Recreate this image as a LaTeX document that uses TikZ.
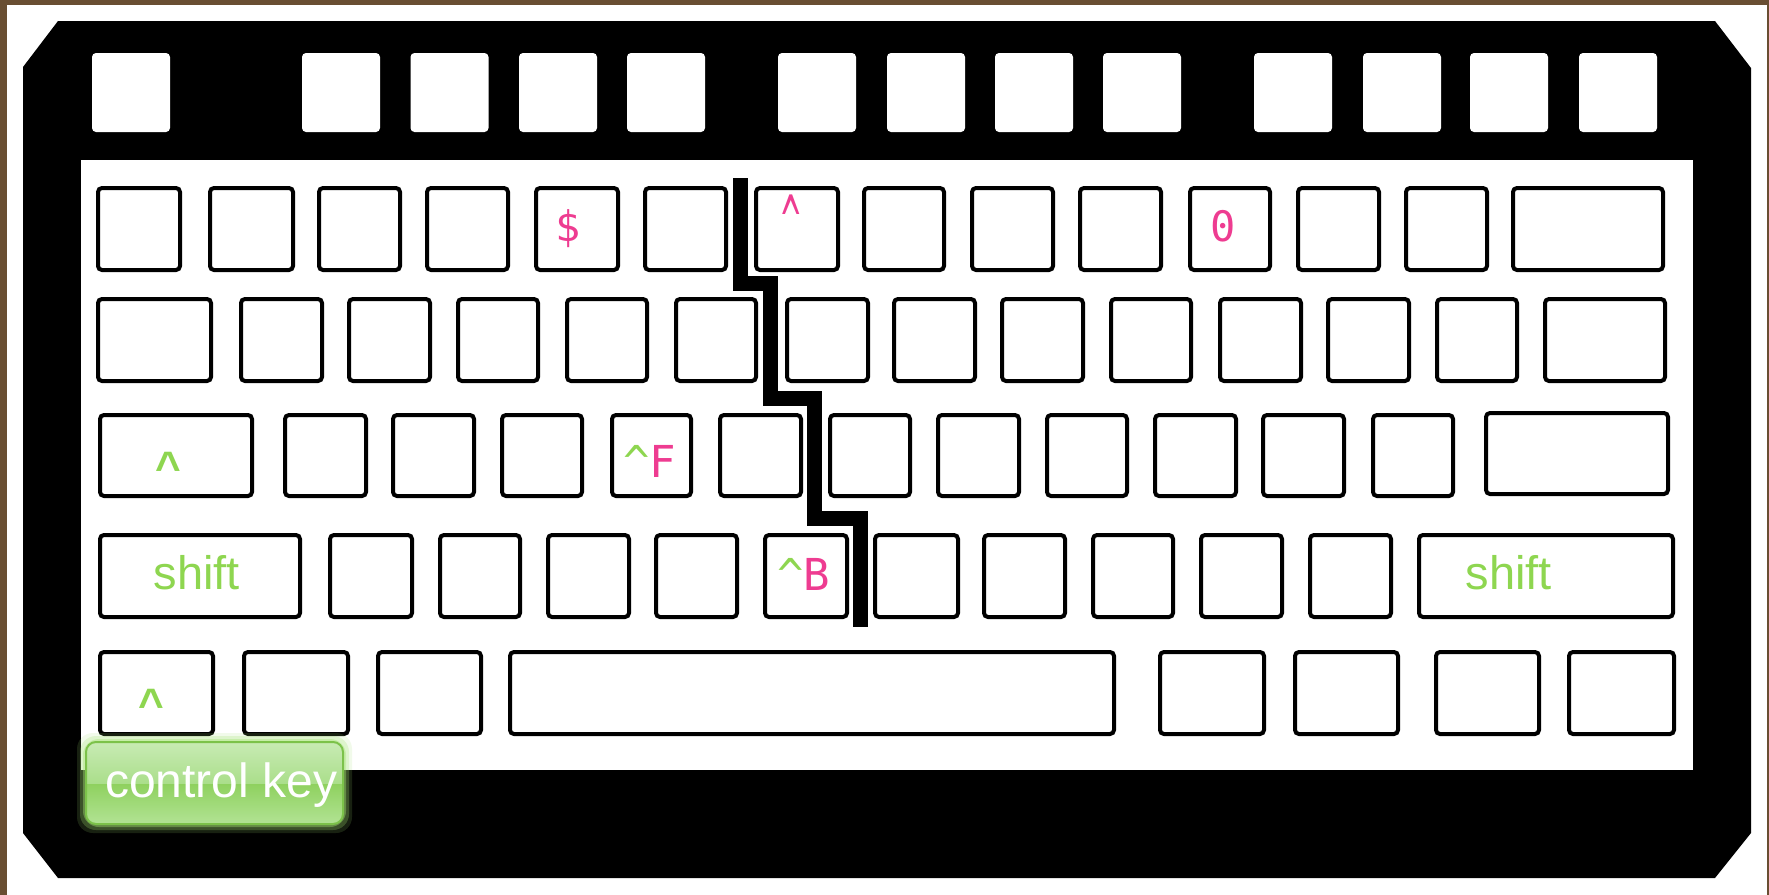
\documentclass[tikz,border=0pt]{standalone}
\usepackage{fontspec}
\newfontfamily\monof{DejaVu Sans Mono}
\newfontfamily\arialf{Liberation Sans}
\definecolor{kgreen}{RGB}{142,214,80}
\definecolor{kglow}{RGB}{165,228,115}
\definecolor{kpink}{RGB}{238,60,145}
\definecolor{kbrown}{RGB}{105,78,50}
\definecolor{cgla}{RGB}{200,235,180}
\definecolor{cglb}{RGB}{170,222,138}
\definecolor{cgda}{RGB}{143,209,95}
\definecolor{cgdb}{RGB}{178,227,148}
\definecolor{cborder}{RGB}{124,194,74}
\begin{document}
\begin{tikzpicture}[x=0.5pt,y=-0.5pt,
  keyst/.style={draw=black,line width=2pt,rounded corners=2pt,fill=white},
  fkey/.style={fill=white,rounded corners=2pt},
  pinklbl/.style={inner sep=0,outer sep=0,text=kpink,font=\monof\fontsize{21}{24}\selectfont},
  ctrllbl/.style={inner sep=0,outer sep=0,font=\monof\fontsize{22}{26}\selectfont},
  caretlbl/.style={inner sep=0,outer sep=0,text=kgreen,font=\arialf\bfseries\fontsize{22}{26}\selectfont},
  shiftlbl/.style={inner sep=0,outer sep=0,text=kgreen,font=\arialf\fontsize{23.5}{28}\selectfont},
  crack/.style={draw=black,line width=7.5pt}]
\fill[kbrown] (0,0) rectangle (1769,895);
\fill[white] (7,5) rectangle (1767,895);
\useasboundingbox (0,0) rectangle (1769,895);
% body
\fill[black] (23,67) -- (58,21) -- (1715,21) -- (1751,68) -- (1751,833) -- (1715,878) -- (58,878) -- (23,833) -- cycle;
\fill[white] (81,160) rectangle (1693,770);
% function keys
\foreach \a in {92,302,410.5,519,627,778,887,995,1103,1254,1363,1470,1579}
  \fill[fkey] (\a,53) rectangle (\a+78,132);
% row 1
\foreach \a/\b in {96/182,208/295,317/402,425/510,534/620,643/728,754/840,862/946,970/1055,1078/1163,1188/1272,1296/1381,1404/1489,1511/1665}
  \draw[keyst] (\a+2,188) rectangle (\b-2,270);
% row 2
\foreach \a/\b in {96/213,239/324,347/432,456/540,565/649,674/758,785/870,892/977,1000/1085,1109/1193,1218/1303,1326/1411,1435/1519,1543/1667}
  \draw[keyst] (\a+2,299) rectangle (\b-2,381);
% row 3
\foreach \a/\b in {98/254,283/368,391/476,500/584,610/693,718/803,828/912,936/1021,1045/1129,1153/1238,1261/1346,1371/1455}
  \draw[keyst] (\a+2,415) rectangle (\b-2,496);
\draw[keyst] (1486,413) rectangle (1668,494);
% row 4
\foreach \a/\b in {98/302,328/414,438/522,546/631,654/739,763/849,873/960,982/1067,1091/1175,1199/1284,1308/1393,1417/1675}
  \draw[keyst] (\a+2,535) rectangle (\b-2,617);
% row 5
\foreach \a/\b in {98/215,242/350,376/483,508/1116,1158/1266,1293/1400,1434/1541,1567/1676}
  \draw[keyst] (\a+2,652) rectangle (\b-2,734);
% crack
\draw[crack] (740.5,178) -- (740.5,283) -- (770.5,283) -- (770.5,398.5) -- (814.5,398.5) -- (814.5,518.5) -- (860.5,518.5) -- (860.5,627);
% labels
\node[pinklbl,anchor=base] (dollar) at (568.5,241) {\$};
\node[pinklbl,anchor=base] (zero) at (1223.5,241) {0};
\node[pinklbl,anchor=base,font=\monof\fontsize{19}{22}\selectfont] (caretp) at (791,247) {\scalebox{0.85}[1.9]{\textasciicircum}};
\node[ctrllbl,anchor=base west] (ctrlF) at (623,477) {\textcolor{kgreen}{\textasciicircum}\textcolor{kpink}{F}};
\node[ctrllbl,anchor=base west] (ctrlB) at (777,590) {\textcolor{kgreen}{\textasciicircum}\textcolor{kpink}{B}};
\node[caretlbl,anchor=base] (caret3) at (168,482.5) {\textasciicircum};
\node[caretlbl,anchor=base] (caret5) at (151.5,719.5) {\textasciicircum};
\node[shiftlbl,anchor=base west] (shiftl) at (153.5,589) {shift};
\node[shiftlbl,anchor=base west] (shiftr) at (1465.5,589) {shift};
% control key badge
\foreach \r/\o in {9/0.15,6/0.25,3/0.4}
  \fill[kglow,opacity=\o,rounded corners=8pt] (86-\r,742-\r) rectangle (343+\r,824+\r);
\begin{scope}
  \clip[rounded corners=5pt] (86,742) rectangle (343,824);
  \shade[top color=cgla,bottom color=cglb] (86,742) rectangle (343,784);
  \shade[top color=cgda,bottom color=cgdb] (86,784) rectangle (343,824);
\end{scope}
\draw[cborder,line width=1pt,rounded corners=5pt] (86,742) rectangle (343,824);
\node[anchor=base west,inner sep=0,outer sep=0,text=white,font=\arialf\fontsize{24}{28}\selectfont] (ctlkey) at (105,797) {control key};
\end{tikzpicture}
\end{document}
